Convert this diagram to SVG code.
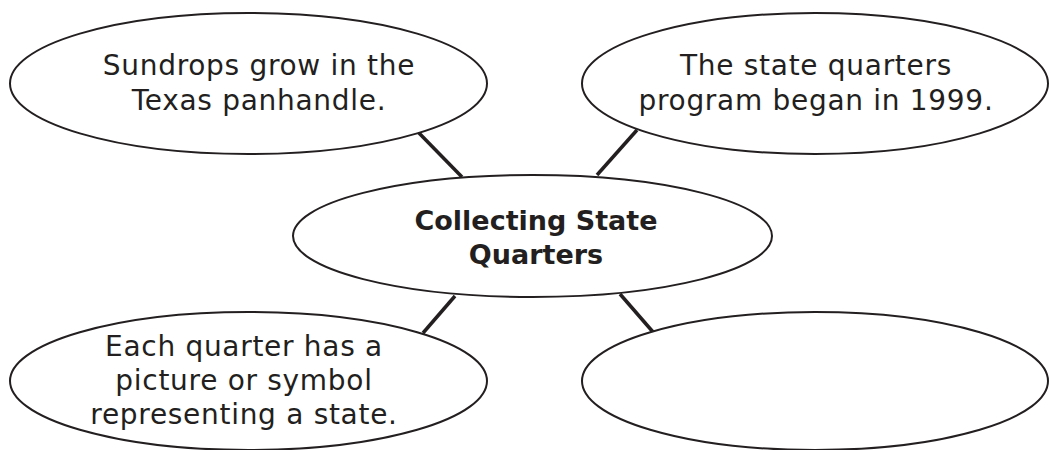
<svg xmlns="http://www.w3.org/2000/svg" width="1051" height="450" viewBox="0 0 1051 450">
<style>
.node ellipse{fill:#fff;stroke:#231f20;stroke-width:2}
.conn line{stroke:#231f20;stroke-width:3.5}
text{font-family:"DejaVu Sans","Noto Sans",sans-serif;font-size:28px;letter-spacing:0.7px;fill:#231f20;text-anchor:middle}
.b{font-weight:bold;font-size:27px;letter-spacing:0}
</style>
<rect width="1051" height="450" fill="#fff"/>
<g class="conn" id="connectors">
<line x1="418" y1="132" x2="462" y2="177"/>
<line x1="637" y1="130" x2="597" y2="175"/>
<line x1="455" y1="296" x2="423" y2="333"/>
<line x1="620" y1="294" x2="653" y2="332"/>
</g>
<g class="node" id="n-sundrops">
<ellipse cx="248.5" cy="83.5" rx="238.5" ry="70.5"/>
<text x="259" y="75">Sundrops grow in the</text>
<text x="259" y="110">Texas panhandle.</text>
</g>
<g class="node" id="n-program">
<ellipse cx="815" cy="83.5" rx="233" ry="70.5"/>
<text x="816" y="75">The state quarters</text>
<text x="816" y="110">program began in 1999.</text>
</g>
<g class="node" id="n-center">
<ellipse cx="532.5" cy="236" rx="239.5" ry="61"/>
<text class="b" x="536" y="230">Collecting State</text>
<text class="b" x="536" y="264">Quarters</text>
</g>
<g class="node" id="n-each">
<ellipse cx="248.5" cy="381" rx="238.5" ry="69"/>
<text x="244" y="356">Each quarter has a</text>
<text x="244" y="390">picture or symbol</text>
<text x="244" y="424">representing a state.</text>
</g>
<g class="node" id="n-empty">
<ellipse cx="815" cy="381" rx="233" ry="69"/>
</g>
</svg>
